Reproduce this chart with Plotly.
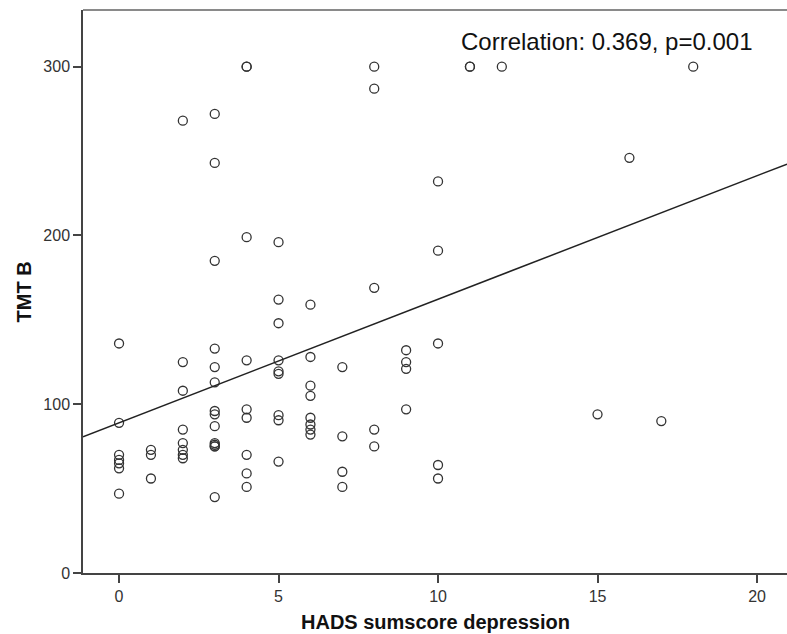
import plotly.graph_objects as go

# HADS sumscore depression (x) and TMT B (y)
hads = ([0]*7 + [1]*3 + [2]*8 + [3]*14 + [4]*9 + [5]*9 + [6]*8 + [7]*4 +
        [8]*5 + [9]*4 + [10]*5 + [11]*2 + [12] + [15] + [16] + [17] + [18])
tmt_b = [136, 89, 70, 67, 65, 62, 47,
         73, 70, 56,
         268, 125, 108, 85, 77, 73, 70, 68,
         272, 243, 185, 133, 122, 113, 96, 94, 87, 77, 76, 75, 75, 45,
         300, 300, 199, 126, 97, 92, 70, 59, 51,
         196, 162, 148, 126, 119.5, 118, 93.5, 90.5, 66,
         159, 128, 111, 105, 92, 88, 85, 82,
         122, 81, 60, 51,
         300, 287, 169, 85, 75,
         132, 125, 121, 97,
         232, 191, 136, 64, 56,
         300, 300,
         300,
         94,
         246,
         90,
         300]

fit_intercept = 89.0
fit_slope = 7.32
x_ticks = [0, 5, 10, 15, 20]
y_ticks = [0, 100, 200, 300]
annotation_text = "Correlation: 0.369, p=0.001"

x_range = [-1.13, 20.94]
y_range = [0, 333.6]

FONT = "Liberation Sans, Arial, sans-serif"

W, H = 787, 634
ML, MR, MT, MB = 83, 0, 10, 61
plot_w = W - ML - MR
plot_h = H - MT - MB

fig = go.Figure()
fig.add_trace(go.Scatter(
    x=hads, y=tmt_b, mode="markers",
    marker=dict(symbol="circle-open", size=9, color="#333333",
                line=dict(width=1.3, color="#333333")),
    showlegend=False, hoverinfo="x+y"))

fig.add_trace(go.Scatter(
    x=x_range,
    y=[fit_intercept + fit_slope * v for v in x_range],
    mode="lines", line=dict(color="#222222", width=1.5),
    showlegend=False, hoverinfo="skip"))

fig.update_layout(
    width=W, height=H,
    margin=dict(l=ML, r=MR, t=MT, b=MB),
    paper_bgcolor="white", plot_bgcolor="white",
    font=dict(family=FONT, color="#222222"),
    xaxis=dict(range=x_range, tickvals=x_ticks, ticks="outside", ticklen=8,
               tickcolor="#444444", tickwidth=1.5,
               showline=True, linecolor="#444444", linewidth=1.5,
               showgrid=False, zeroline=False,
               tickfont=dict(size=16, family=FONT, color="#333333")),
    yaxis=dict(range=y_range, tickvals=y_ticks, ticks="outside", ticklen=8,
               tickcolor="#444444", tickwidth=1.5,
               showline=True, linecolor="#444444", linewidth=1.5,
               showgrid=False, zeroline=False,
               tickfont=dict(size=16, family=FONT, color="#333333")),
    shapes=[dict(type="line", xref="paper", yref="paper", x0=0, x1=1, y0=1, y1=1,
                 line=dict(color="#8a8a8a", width=2))],
    annotations=[
        dict(text=annotation_text, x=(606.5 - ML) / plot_w, y=(H - MB - 42) / plot_h,
             xref="paper", yref="paper",
             showarrow=False, font=dict(size=24, family=FONT, color="#111111"),
             xanchor="center", yanchor="middle"),
        dict(text="<b>HADS sumscore depression</b>", x=0.5, y=(H - MB - 621.7) / plot_h,
             xref="paper", yref="paper",
             showarrow=False, font=dict(size=20, family=FONT, color="#111111"),
             xanchor="center", yanchor="middle"),
        dict(text="<b>TMT B</b>", x=(23.5 - ML) / plot_w, y=(H - MB - 292) / plot_h,
             xref="paper", yref="paper",
             showarrow=False, textangle=-90, font=dict(size=20, family=FONT, color="#111111"),
             xanchor="center", yanchor="middle"),
    ],
)

fig.write_html("out.html",
               config={"displayModeBar": False},
               post_script="document.body.style.margin='0';document.body.style.overflow='hidden';")
